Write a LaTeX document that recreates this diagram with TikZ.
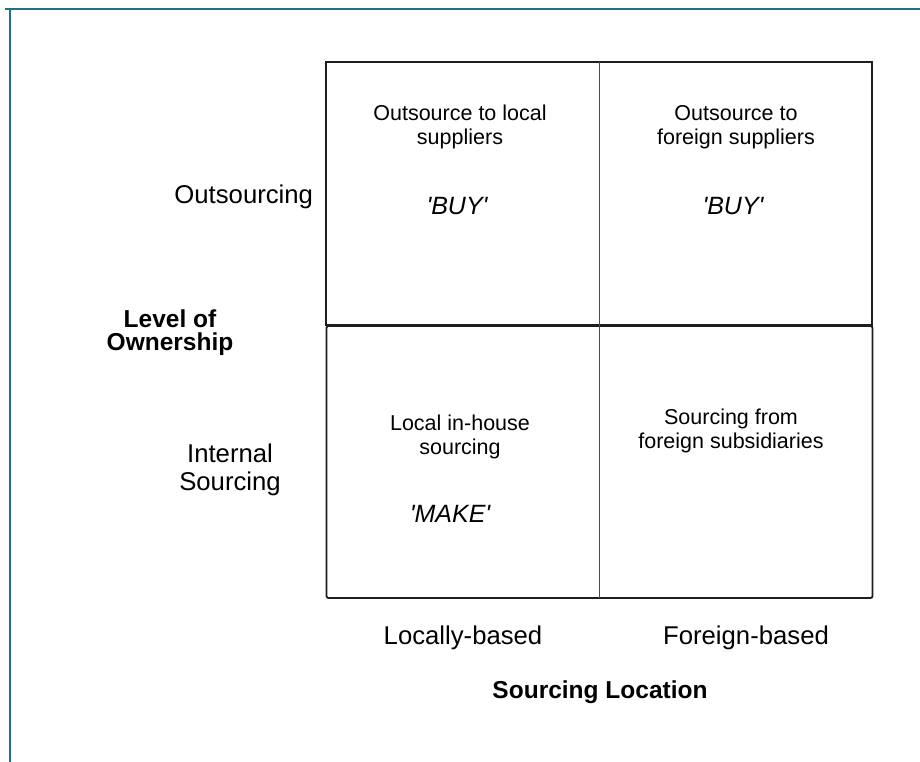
\documentclass[tikz,border=0pt]{standalone}
\usepackage{fontspec}
\setmainfont{Liberation Sans}[Ligatures=TeXOff]
\usepackage{xcolor}
\usetikzlibrary{positioning}
\definecolor{frameteal}{RGB}{33,112,133}
\definecolor{gridline}{RGB}{30,30,30}

\begin{document}
\begin{tikzpicture}[
    x=1pt, y=-1pt,
    every node/.style = {inner sep=0pt, outer sep=0pt},
    row/.style = {draw=gridline, line width=1.8pt, minimum width=546pt},
    celltext/.style = {align=center, font=\fontsize{21.5}{23.5}\selectfont},
    choice/.style = {font=\fontsize{25}{27}\selectfont\itshape},
    axis/.style = {align=center, font=\fontsize{25.7}{27}\selectfont},
    heading/.style = {align=center, font=\fontsize{24.5}{23}\selectfont\bfseries},
                    ]
    \useasboundingbox (0,0) rectangle (920,762);
    % frame
    \coordinate (fbl) at (10,762);
    \coordinate (ftl) at (10,9);
    \coordinate (ftr) at (920,9);
    \draw[frameteal, line width=2.2pt] (fbl) -- (ftl) -- (5,9) -- (ftr);
    % the two rows
    \node (outs) [row, minimum height=263pt] at (599,193.5) {};
    \node (ins)  [row, minimum height=272pt, rounded corners=2pt] at (599.5,462) {};
    \draw[gridline!80, line width=0.8pt] (outs.north) -- (outs.north |- ins.south);
    % cells
    \node (tlText) [celltext] at (460,127) {Outsource to local\\suppliers};
    \node (tlBuy)  [choice]   at (457,206) {'BUY'};
    \node (trText) [celltext] at (736,127) {Outsource to\\foreign suppliers};
    \node (trBuy)  [choice]   at (733,206) {'BUY'};
    \node (blText) [celltext] at (460,437) {Local in-house\\sourcing};
    \node (blMake) [choice]   at (450,514) {'MAKE'};
    \node (brText) [celltext] at (731,431) {Sourcing from\\foreign subsidiaries};
    % axis labels
    \node (outsLbl) [axis, left=13pt of outs, yshift=-3pt] {Outsourcing};
    \node (insLbl)  [axis, text depth=0pt, font=\fontsize{25.7}{28}\selectfont] at (230,467) {Internal\\Sourcing};
    \node (ownLbl)  [heading] at (170,333) {Level of\\Ownership};
    \node (locLbl)  [axis] at (463,638) {Locally-based};
    \node (forLbl)  [axis] at (746,638) {Foreign-based};
    \node (srcLbl)  [heading] at (600,692) {Sourcing Location};
\end{tikzpicture}
\end{document}
